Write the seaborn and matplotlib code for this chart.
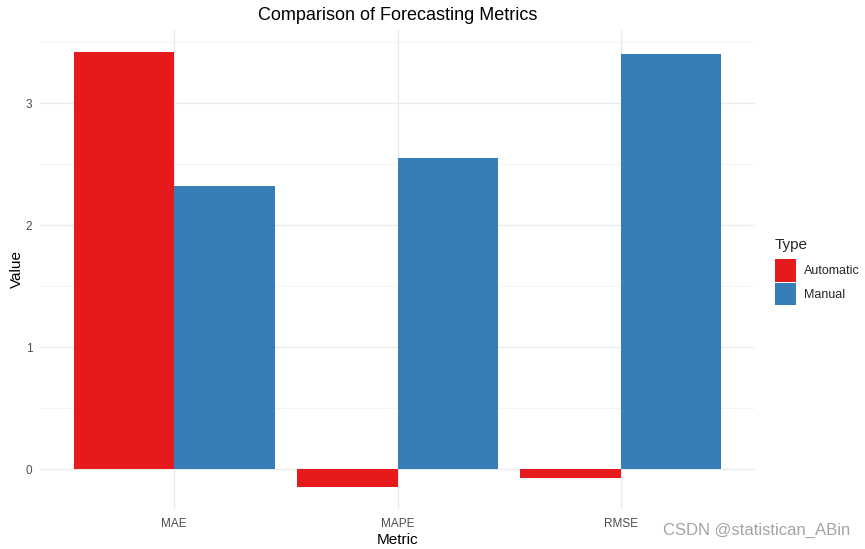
import matplotlib
matplotlib.use("Agg")
import matplotlib.pyplot as plt
import seaborn as sns
import pandas as pd
from matplotlib.ticker import MultipleLocator
from matplotlib.patches import Patch

metrics = ["MAE", "MAPE", "RMSE"]
types = ["Automatic", "Manual"]
automatic = [3.423, -0.145, -0.071]
manual = [2.322, 2.554, 3.404]
colors = ["#E41A1C", "#377EB8"]

df = pd.DataFrame({
    "Metric": metrics * 2,
    "Type": ["Automatic"] * 3 + ["Manual"] * 3,
    "Value": automatic + manual,
})

sns.set_theme(style="white")
plt.rcParams["font.family"] = ["Liberation Sans", "DejaVu Sans"]

W, H = 865, 549
fig = plt.figure(figsize=(W / 100, H / 100), dpi=100)
ax = fig.add_axes([40 / W, 1 - 509 / H, 715 / W, 479 / H])

sns.barplot(data=df, x="Metric", y="Value", hue="Type", order=metrics,
            hue_order=types, palette=colors, width=0.9, gap=0,
            linewidth=0, saturation=1, ax=ax, legend=False, zorder=3)

ax.set_xlim(-0.6, 2.6)
ax.set_ylim(-0.324, 3.6)
ax.yaxis.set_major_locator(MultipleLocator(1))
ax.yaxis.set_minor_locator(MultipleLocator(0.5))
ax.grid(True, which="major", axis="both", color="#EBEBEB", linewidth=1.0, zorder=0)
ax.grid(True, which="minor", axis="y", color="#F2F2F2", linewidth=0.6, zorder=0)
ax.set_axisbelow(True)
for s in ax.spines.values():
    s.set_visible(False)
ax.tick_params(axis="both", which="both", length=0, labelsize=8.5, labelcolor="#4D4D4D")
ax.tick_params(axis="x", pad=6.5)
ax.tick_params(axis="y", pad=5.5)

ax.set_xlabel("Metric", fontsize=11, color="black", labelpad=2)
ax.set_ylabel("Value", fontsize=11, color="black", labelpad=1)
ax.set_title("Comparison of Forecasting Metrics", fontsize=13, color="black", pad=7.5)

handles = [Patch(facecolor=c, edgecolor="none") for c in colors]
leg = fig.legend(handles, types, title="Type", loc="upper left",
                 bbox_to_anchor=(775 / W, 1 - 238 / H), frameon=False,
                 fontsize=9, title_fontsize=11, handlelength=1.68,
                 handleheight=2.4, labelspacing=0.08, handletextpad=0.65,
                 borderaxespad=0, borderpad=0)
leg._legend_box.align = "left"
leg._legend_box.sep = 5

fig.text(850 / W, 1 - 530 / H, "CSDN @statistican_ABin", ha="right", va="center",
         fontsize=12, color="#9A9A9A", alpha=0.9)

fig.savefig("out.png", dpi=100)
